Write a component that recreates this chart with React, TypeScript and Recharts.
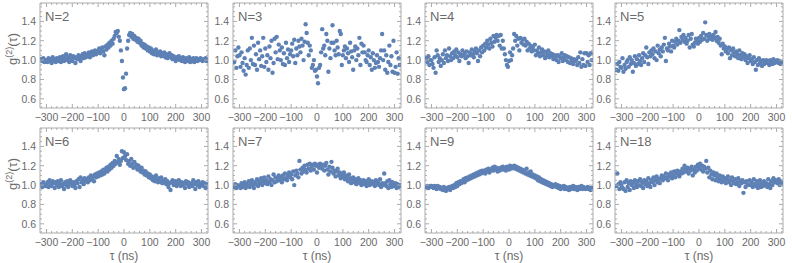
import React from "react";
import { ScatterChart, Scatter, XAxis, YAxis, ReferenceArea } from "recharts";

// time bins: -320 ns .. 320 ns, one point every 4 ns
const TAU_START = -320;
const TAU_STEP = 4;

const X_TICKS = [
  -320, -300, -280, -260, -240, -220, -200, -180, -160, -140, -120, -100, -80, -60, -40, -20,
  0, 20, 40, 60, 80, 100, 120, 140, 160, 180, 200, 220, 240, 260, 280, 300, 320,
];
const X_LABELS = [-300, -200, -100, 0, 100, 200, 300];
const Y_TICKS = [
  0.55, 0.6, 0.65, 0.7, 0.75, 0.8, 0.85, 0.9, 0.95, 1.0, 1.05, 1.1, 1.15, 1.2, 1.25, 1.3, 1.35,
  1.4, 1.45, 1.5, 1.55,
];
const Y_LABELS = [0.6, 0.8, 1.0, 1.2, 1.4];

const G2_N2 = [
  1.01, 0.99, 1.02, 0.98, 1.0,
  1.0, 0.98, 1.02, 0.99, 1.01, 0.97, 1.03, 0.99, 1.0, 0.98,
  1.02, 1.0, 0.99, 1.03, 0.98, 1.01, 1.04, 0.99, 1.02, 1.06,
  1.0, 1.03, 0.98, 1.05, 1.01, 0.99, 1.04, 1.02, 0.97, 1.03,
  1.01, 1.05, 1.02, 0.99, 1.04, 1.06, 1.02, 1.07, 1.03, 1.05,
  1.04, 1.08, 1.03, 1.06, 1.09, 1.05, 1.07, 1.1, 1.06, 1.09,
  1.08, 1.12, 1.07, 1.1, 1.13, 1.09, 1.05, 1.14, 1.11, 1.16,
  1.13, 1.18, 1.15, 1.2, 1.17, 1.22, 1.25, 1.29, 1.28, 1.3,
  1.24, 1.2, 1.1, 0.99, 0.82, 0.7, 0.71, 0.86, 1.12, 1.2,
  1.26, 1.28, 1.24, 1.27, 1.22, 1.25, 1.21, 1.23, 1.19, 1.22,
  1.18, 1.2, 1.15, 1.17, 1.13, 1.16, 1.12, 1.14, 1.1, 1.13,
  1.09, 1.12, 1.07, 1.1, 1.06, 1.09, 1.11, 1.05, 1.08, 1.06,
  1.09, 1.04, 1.07, 1.05, 1.08, 1.03, 1.06, 1.02, 1.05, 1.07,
  1.03, 1.05, 1.01, 1.04, 1.02, 0.99, 1.03, 1.01, 1.04, 1.0,
  1.02, 0.99, 1.03, 1.0, 0.98, 1.02, 1.01, 0.99, 1.03, 0.98,
  1.01, 0.99, 1.02, 0.98, 1.0, 1.02, 0.99, 1.01, 1.0, 1.02,
  1.0,
  0.99, 1.01, 1.0, 1.02, 0.99,
];

const G2_N3 = [
  0.98, 1.1, 0.92, 1.04, 1.13,
  1.05, 0.93, 1.08, 0.97, 0.89, 1.02, 0.85, 0.95, 1.1, 0.92,
  1.12, 1.0, 1.23, 0.96, 1.15, 0.95, 1.06, 0.9, 1.18, 1.01,
  1.1, 0.94, 1.04, 1.23, 0.93, 1.12, 0.98, 1.05, 0.9, 1.14,
  1.02, 1.2, 0.87, 0.97, 1.22, 1.08, 1.24, 1.01, 1.16, 1.1,
  1.0, 1.13, 0.96, 1.07, 0.95, 1.18, 1.02, 1.11, 0.98, 1.06,
  1.1, 1.17, 1.04, 1.21, 0.97, 1.12, 1.05, 1.2, 1.14, 1.08,
  1.22, 1.15, 1.0, 1.19, 1.37, 1.28, 1.18, 1.05, 1.15, 1.1,
  0.92, 0.95, 1.0, 0.89, 0.9, 0.83, 0.76, 0.92, 0.95, 1.08,
  1.32, 1.12, 1.15, 1.05, 1.27, 1.2, 0.88, 1.12, 1.02, 1.18,
  1.36, 1.18, 1.1, 1.05, 1.2, 1.13, 1.06, 1.3, 1.27, 0.95,
  1.05, 1.1, 1.14, 1.02, 1.12, 1.07, 0.98, 1.18, 1.09, 1.03,
  0.9, 1.1, 1.14, 1.0, 1.12, 1.05, 1.23, 0.95, 1.17, 1.08,
  1.15, 1.08, 1.0, 0.98, 1.05, 1.1, 0.95, 1.03, 0.9, 1.07,
  1.0, 0.92, 0.97, 1.05, 0.98, 0.93, 1.02, 1.1, 1.27, 1.0,
  1.1, 0.9, 1.05, 0.87, 0.98, 1.15, 0.95, 1.04, 0.88, 1.2,
  0.87,
  0.93, 1.08, 0.86, 1.02, 0.95,
];

const G2_N4 = [
  1.02, 0.98, 1.04, 0.95, 1.0,
  1.0, 0.96, 0.92, 1.03, 0.87, 1.1, 1.05, 0.98, 1.02, 0.94,
  1.0, 1.06, 0.97, 1.1, 1.02, 1.05, 0.99, 1.12, 1.04, 1.0,
  1.07, 1.02, 1.09, 1.05, 1.11, 1.03, 1.08, 0.99, 1.06, 1.04,
  1.1, 1.05, 1.07, 1.02, 1.09, 1.04, 0.97, 1.08, 1.05, 1.11,
  1.06, 1.03, 1.09, 1.12, 1.07, 0.99, 1.1, 1.04, 1.13, 1.08,
  1.15, 1.1, 1.17, 1.13, 1.2, 1.16, 1.12, 1.22, 1.18, 1.14,
  1.25, 1.19, 1.23, 1.26, 1.2, 1.25, 1.15, 1.26, 1.12, 1.2,
  1.12, 1.06, 1.0, 0.95, 0.93, 0.99, 1.08, 1.0, 1.05, 1.12,
  1.27, 1.2, 1.25, 1.15, 1.22, 1.1, 1.23, 1.18, 1.21, 1.16,
  1.22, 1.15, 1.19, 1.1, 1.17, 1.12, 1.15, 1.09, 1.13, 1.1,
  1.16, 1.05, 1.1, 1.07, 1.13, 1.04, 1.08, 1.11, 1.05, 1.09,
  1.02, 1.08, 1.05, 1.1, 1.03, 1.07, 1.04, 1.06, 1.01, 1.05,
  1.03, 1.0, 1.05, 0.98, 1.04, 1.02, 1.07, 0.99, 1.03, 1.05,
  1.0, 1.04, 0.98, 1.03, 0.97, 1.02, 1.0, 0.96, 1.01, 0.99,
  1.0, 0.95, 1.03, 0.97, 1.08, 0.93, 1.01, 0.95, 1.07, 0.94,
  1.07,
  0.98, 1.05, 0.95, 1.07, 1.0,
];

const G2_N5 = [
  0.9, 0.96, 0.89, 0.98, 0.93,
  0.92, 1.02, 0.88, 0.95, 0.91, 0.98, 1.0, 0.93, 1.03, 0.96,
  1.0, 0.88, 0.97, 1.04, 0.94, 1.01, 0.96, 1.05, 0.99, 0.95,
  1.02, 1.07, 0.98, 1.05, 1.13, 1.03, 0.96, 1.08, 1.04, 1.1,
  1.06, 1.12, 1.02, 1.09, 1.0, 1.15, 1.07, 1.11, 1.04, 1.13,
  1.09, 1.16, 1.23, 0.99, 1.12, 1.1, 1.17, 1.14, 1.09, 1.2,
  1.15, 1.13, 1.19, 1.22, 1.16, 1.2, 1.31, 1.18, 1.24, 1.21,
  1.26, 1.19, 1.23, 1.17, 1.2, 1.26, 1.13, 1.22, 1.27, 1.16,
  1.14, 1.18, 1.22, 1.2, 1.17, 1.23, 1.19, 1.25, 1.21, 1.28,
  1.22, 1.39, 1.26, 1.2, 1.24, 1.27, 1.22, 1.25, 1.21, 1.26,
  1.23, 1.29, 1.2, 1.24, 1.18, 1.22, 1.15, 1.06, 1.17, 1.12,
  1.14, 1.09, 1.11, 1.07, 1.13, 1.02, 1.1, 1.05, 1.12, 1.08,
  1.04, 1.09, 1.06, 1.02, 1.1, 1.05, 1.01, 1.07, 1.03, 1.06,
  1.0, 1.04, 0.97, 1.02, 1.05, 0.99, 1.01, 0.96, 1.03, 0.98,
  0.9, 1.0, 0.95, 1.02, 0.97, 0.99, 0.94, 1.0, 0.96, 0.98,
  1.0, 0.97, 0.99, 0.95, 1.0, 0.98, 0.96, 1.01, 0.97, 0.99,
  0.98,
  1.0, 0.97, 0.99, 0.96, 0.98,
];

const G2_N6 = [
  1.01, 0.98, 1.03, 1.0, 0.99,
  1.0, 1.03, 0.98, 1.05, 1.01, 0.99, 1.04, 1.02, 0.97, 1.03,
  1.0, 1.04, 0.98, 1.02, 1.05, 0.99, 1.01, 0.96, 1.03, 1.0,
  1.04, 0.98, 1.02, 1.05, 1.01, 0.99, 1.03, 1.0, 0.97, 1.04,
  1.02, 1.06, 0.98, 1.08, 1.03, 1.05, 1.01, 1.07, 1.04, 1.06,
  1.03, 1.08, 1.05, 1.1, 1.06, 1.09, 1.04, 1.11, 1.08, 1.12,
  1.09, 1.13, 1.1, 1.14, 1.11, 1.16, 1.12, 1.15, 1.18, 1.14,
  1.19, 1.16, 1.21, 1.18, 1.23, 1.2, 1.25, 1.22, 1.3, 1.24,
  1.27, 1.21, 1.25, 1.35, 1.28, 1.34, 1.3, 1.26, 1.32, 1.22,
  1.25, 1.2, 1.27, 1.22, 1.18, 1.24, 1.19, 1.21, 1.16, 1.2,
  1.17, 1.14, 1.18, 1.13, 1.15, 1.11, 1.14, 1.1, 1.12, 1.08,
  1.11, 1.07, 1.09, 1.05, 1.08, 1.04, 1.1, 1.06, 1.03, 1.07,
  1.04, 1.08, 1.02, 1.05, 1.03, 1.06, 1.01, 1.04, 0.98, 1.02,
  0.95, 1.03, 1.05, 1.0, 1.02, 1.04, 0.99, 1.01, 1.05, 1.02,
  0.99, 1.03, 1.0, 1.02, 0.97, 1.04, 1.01, 1.03, 0.98, 1.0,
  1.02, 0.99, 1.05, 1.01, 0.96, 1.03, 1.0, 1.04, 0.98, 1.01,
  1.0,
  1.03, 0.99, 1.02, 0.97, 1.01,
];

const G2_N7 = [
  0.98, 1.01, 0.97, 1.0, 0.99,
  0.99, 0.97, 1.02, 0.98, 1.0, 1.03, 0.97, 1.01, 0.99, 1.04,
  0.98, 1.02, 1.05, 1.0, 0.97, 1.03, 1.01, 1.06, 0.99, 1.04,
  1.02, 1.07, 1.0, 1.04, 1.08, 1.02, 1.05, 1.01, 1.09, 1.03,
  1.06, 1.0, 1.05, 1.11, 1.03, 1.08, 1.04, 1.07, 1.1, 1.05,
  1.08, 1.03, 1.1, 1.06, 1.12, 1.07, 1.05, 1.1, 1.13, 1.08,
  1.11, 1.06, 1.14, 1.0, 1.1, 1.15, 1.12, 1.08, 1.25, 1.16,
  1.12, 1.18, 1.14, 1.2, 1.16, 1.13, 1.21, 1.17, 1.22, 1.15,
  1.19, 1.21, 1.16, 1.22, 1.2, 1.13, 1.21, 1.18, 1.22, 1.19,
  1.17, 1.21, 1.15, 1.2, 1.23, 1.16, 1.11, 1.19, 1.14, 1.24,
  1.18, 1.12, 1.15, 1.09, 1.14, 1.17, 1.1, 1.13, 1.07, 1.11,
  1.09, 1.13, 1.06, 1.1, 1.08, 1.04, 1.11, 1.07, 1.02, 1.05,
  1.08, 1.03, 1.06, 1.01, 1.04, 1.07, 1.02, 1.05, 1.0, 1.03,
  1.05, 1.01, 1.04, 0.99, 1.03, 1.06, 1.0, 1.02, 1.04, 1.01,
  1.03, 0.99, 1.05, 1.01, 1.03, 1.0, 1.06, 0.98, 1.02, 1.0,
  1.12, 1.02, 0.99, 1.04, 0.97, 1.05, 1.01, 0.98, 1.03, 0.99,
  1.0,
  1.02, 0.97, 1.01, 0.98, 1.0,
];

const G2_N9 = [
  0.98, 0.99, 0.97, 0.98, 0.99,
  0.99, 0.98, 0.97, 0.99, 0.98, 0.96, 0.99, 0.97, 0.98, 0.96,
  0.97, 0.95, 0.98, 0.96, 0.94, 0.97, 0.96, 0.98, 0.95, 0.97,
  0.99, 0.97, 1.0, 0.98, 1.02, 0.99, 1.03, 1.01, 1.04, 1.02,
  1.04, 1.06, 1.03, 1.07, 1.05, 1.08, 1.06, 1.09, 1.07, 1.1,
  1.08, 1.11, 1.09, 1.12, 1.1, 1.13, 1.11, 1.14, 1.12, 1.15,
  1.13, 1.15, 1.12, 1.16, 1.14, 1.17, 1.13, 1.16, 1.15, 1.18,
  1.15, 1.19, 1.16, 1.18, 1.14, 1.17, 1.15, 1.18, 1.16, 1.19,
  1.16, 1.18, 1.15, 1.19, 1.17, 1.16, 1.2, 1.17, 1.19, 1.18,
  1.2, 1.17, 1.19, 1.16, 1.18, 1.15, 1.17, 1.14, 1.16, 1.13,
  1.15, 1.12, 1.17, 1.11, 1.13, 1.1, 1.14, 1.09, 1.11, 1.08,
  1.1, 1.07, 1.09, 1.05, 1.08, 1.04, 1.06, 1.03, 1.05, 1.02,
  1.04, 1.01, 1.03, 1.0, 1.02, 0.99, 1.01, 0.98, 1.0, 0.99,
  1.01, 0.98, 1.0, 0.97, 0.99, 0.96, 0.98, 0.97, 0.99, 0.96,
  0.98, 0.96, 0.97, 0.95, 0.98, 0.96, 0.97, 0.99, 0.96, 0.98,
  0.97, 0.95, 0.98, 0.96, 0.97, 0.99, 0.96, 0.98, 0.97, 0.96,
  0.97,
  0.98, 0.96, 0.97, 0.95, 0.97,
];

const G2_N18 = [
  0.99, 1.12, 1.01, 0.96, 1.03,
  1.0, 0.97, 0.96, 1.03, 0.94, 1.05, 0.98, 1.02, 0.95, 1.04,
  1.0, 1.03, 0.97, 1.05, 1.01, 0.98, 1.04, 1.0, 1.06, 0.99,
  1.03, 0.97, 1.05, 1.01, 1.04, 0.99, 1.07, 1.02, 0.98, 1.05,
  1.03, 1.08, 1.0, 1.05, 1.09, 1.03, 1.06, 1.02, 1.07, 1.1,
  1.05, 1.09, 1.07, 1.12, 1.08, 1.05, 1.11, 1.09, 1.13, 1.07,
  1.1, 1.14, 1.08, 1.12, 1.15, 1.11, 1.09, 1.14, 1.12, 1.17,
  1.13, 1.2, 1.16, 1.14, 1.18, 1.12, 1.17, 1.15, 1.19, 1.1,
  1.16, 1.13, 1.19, 1.15, 1.21, 1.18, 1.22, 1.16, 1.2, 1.14,
  1.19, 1.17, 1.25, 1.13, 1.18, 1.08, 1.15, 1.11, 1.06, 1.13,
  1.1, 1.05, 1.12, 1.08, 1.04, 1.1, 1.06, 1.03, 1.09, 1.05,
  1.07, 1.02, 1.06, 1.09, 1.03, 1.05, 1.0, 1.08, 1.04, 1.02,
  1.06, 1.01, 1.03, 1.07, 0.99, 1.04, 1.02, 1.05, 0.92, 1.03,
  0.98, 1.04, 1.01, 1.0, 1.05, 1.0, 1.03, 0.98, 1.06, 1.01,
  0.99, 1.04, 0.97, 1.01, 1.05, 0.98, 1.02, 0.99, 1.04, 1.0,
  1.02, 0.98, 1.06, 1.01, 0.97, 1.04, 1.0, 1.07, 1.03, 1.05,
  1.03,
  1.02, 1.06, 1.0, 1.04, 1.01,
];

const PANEL_LABELS = ["N=2", "N=3", "N=4", "N=5", "N=6", "N=7", "N=9", "N=18"];
const PANEL_VALUES = [G2_N2, G2_N3, G2_N4, G2_N5, G2_N6, G2_N7, G2_N9, G2_N18];

const X_DOMAIN: [number, number] = [-325, 325];
const Y_DOMAIN: [number, number] = [0.505, 1.59];

const COL_LEFT = [40, 233, 425, 615];
const ROW_TOP = [3, 128];
const PLOT_W = 168;
const PLOT_H = 105;
const AXIS_W = 40;
const PAD_R = 12;
const PAD_T = 3;

const DOT = "#5E81B5";
const FRAME = "#ababab";
const TEXT = "#6a6a6a";
const FONT = "'Liberation Sans', Arial, sans-serif";

const fmtX = (v: number) => (v < 0 ? "\u2212" + Math.abs(v) : String(v));

function XTick(props: any) {
  const { x, y, payload } = props;
  const v = payload.value as number;
  const major = X_LABELS.includes(v);
  const len = major ? 4 : 2;
  return (
    <g>
      <line x1={x} y1={y} x2={x} y2={y - len} stroke={FRAME} />
      <line x1={x} y1={y - PLOT_H} x2={x} y2={y - PLOT_H + len} stroke={FRAME} />
      {major && (
        <text x={x} y={y + 13} textAnchor="middle" fontSize={10.5} fill={TEXT} fontFamily={FONT}>
          {fmtX(v)}
        </text>
      )}
    </g>
  );
}

function YTick(props: any) {
  const { x, y, payload } = props;
  const v = payload.value as number;
  const major = Y_LABELS.some((m) => Math.abs(m - v) < 1e-6);
  const len = major ? 4 : 2;
  return (
    <g>
      <line x1={x} y1={y} x2={x + len} y2={y} stroke={FRAME} />
      <line x1={x + PLOT_W} y1={y} x2={x + PLOT_W - len} y2={y} stroke={FRAME} />
      {major && (
        <text x={x - 4} y={y + 4} textAnchor="end" fontSize={10.5} fill={TEXT} fontFamily={FONT}>
          {v.toFixed(1)}
        </text>
      )}
    </g>
  );
}

const Dot = (p: any) => <circle cx={p.cx} cy={p.cy} r={2.2} fill={DOT} />;

function Panel({ index }: { index: number }) {
  const col = index % 4;
  const row = Math.floor(index / 4);
  const xAxisH = 20;
  const data = PANEL_VALUES[index].map((g, i) => ({ tau: TAU_START + i * TAU_STEP, g }));
  return (
    <div
      style={{
        position: "absolute",
        left: COL_LEFT[col] - AXIS_W,
        top: ROW_TOP[row] - PAD_T,
      }}
    >
      <ScatterChart
        width={AXIS_W + PLOT_W + PAD_R}
        height={PAD_T + PLOT_H + xAxisH}
        margin={{ top: PAD_T, right: PAD_R, bottom: 0, left: 0 }}
      >
        <XAxis
          type="number"
          dataKey="tau"
          domain={X_DOMAIN}
          allowDataOverflow
          ticks={X_TICKS}
          interval={0}
          tickSize={0}
          tickMargin={0}
          height={xAxisH}
          axisLine={false}
          tick={<XTick />}
        />
        <YAxis
          type="number"
          dataKey="g"
          domain={Y_DOMAIN}
          allowDataOverflow
          ticks={Y_TICKS}
          interval={0}
          tickSize={0}
          tickMargin={0}
          width={AXIS_W}
          axisLine={false}
          tick={<YTick />}
        />
        <ReferenceArea
          x1={X_DOMAIN[0]}
          x2={X_DOMAIN[1]}
          y1={Y_DOMAIN[0]}
          y2={Y_DOMAIN[1]}
          fill="none"
          fillOpacity={0}
          stroke={FRAME}
          strokeOpacity={1}
          ifOverflow="visible"
        />
        <Scatter data={data} shape={Dot} isAnimationActive={false} />
      </ScatterChart>
    </div>
  );
}

export default function App() {
  return (
    <div
      style={{
        position: "absolute",
        left: 0,
        top: 0,
        width: 792,
        height: 263,
        background: "#fff",
        overflow: "hidden",
      }}
    >
      {PANEL_LABELS.map((_, i) => (
        <Panel key={i} index={i} />
      ))}
      <svg
        width={792}
        height={263}
        style={{ position: "absolute", left: 0, top: 0, pointerEvents: "none" }}
        fontFamily={FONT}
      >
        {PANEL_LABELS.map((label, i) => (
          <text
            key={label}
            x={COL_LEFT[i % 4] + 5}
            y={ROW_TOP[Math.floor(i / 4)] + 18}
            fontSize={13}
            fill={TEXT}
          >
            {label}
          </text>
        ))}
        {ROW_TOP.map((top) => (
          <text
            key={top}
            transform={`translate(17, ${top + 46}) rotate(-90)`}
            textAnchor="middle"
            fontSize={13}
            fill={TEXT}
          >
            g
            <tspan fontSize={9} dy={-5}>
              (2)
            </tspan>
            <tspan dy={5}>(τ)</tspan>
          </text>
        ))}
        {COL_LEFT.map((left) => (
          <text
            key={left}
            x={left + PLOT_W / 2}
            y={260}
            textAnchor="middle"
            fontSize={12}
            fill={TEXT}
          >
            τ (ns)
          </text>
        ))}
      </svg>
    </div>
  );
}
